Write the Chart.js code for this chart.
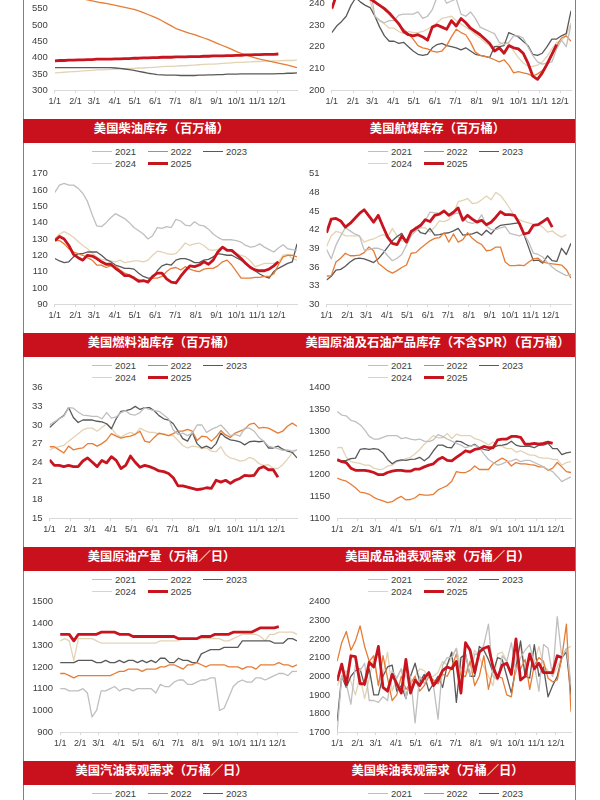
<!DOCTYPE html>
<html lang="zh-CN">
<head>
<meta charset="UTF-8">
<title>美国石油周度数据</title>
<script src="https://cdn.jsdelivr.net/npm/chart.js@4.4.1/dist/chart.umd.min.js"></script>
<style>
  html, body { margin: 0; padding: 0; background: #fff; }
  body {
    width: 600px; height: 800px; overflow: hidden; position: relative;
    font-family: "Liberation Sans", Arial, sans-serif;
  }
  #board { position: absolute; left: 0; top: -95px; width: 600px; height: 1100px; }
  .edge { position: absolute; top: 0; width: 1px; height: 1100px; background: #d65a62; }
  .bar { position: absolute; left: 23px; width: 552px; height: 24px; background: #c9111d; }
  .bar span {
    position: absolute; top: 0; line-height: 24px; text-align: center; color: #fff;
    font: bold 12.3px "Noto Sans CJK SC", sans-serif;
  }
  .legend {
    position: absolute; display: grid; grid-template-columns: 55.5px 55.5px 55.5px;
    grid-auto-rows: 12px; font-size: 9.5px; color: #404040;
  }
  .legend div { display: flex; align-items: center; white-space: nowrap; }
  .legend i { display: inline-block; width: 20px; margin-right: 3px; }
  .plot { position: absolute; height: 164px; }
</style>
</head>
<body>
<div id="board">
  <div class="edge" style="left:23px"></div>
  <div class="edge" style="left:575px"></div>
</div>

<script>
  const YEARS = ["2021", "2022", "2023", "2024", "2025"];
  const COLORS = ["#bfbfbf", "#e67c36", "#595959", "#e3d3b5", "#c8141e"];
  const WIDTHS = [1.3, 1.3, 1.3, 1.3, 2.8];
  const MONTH_DAYS = [0, 31, 59, 90, 120, 151, 181, 212, 243, 273, 304, 334];
  const MONTH_LABELS = ["1/1", "2/1", "3/1", "4/1", "5/1", "6/1", "7/1", "8/1", "9/1", "10/1", "11/1", "12/1"];

  // weekly values, one point every 7 days from 1/1

  // 美国战略原油储备 (top-left, only lower part on screen)
  const spr2021 = [638,638,638,638,637,637,637,637,637,637,638,638,638,637,634,631,628,625,622,620,618,617,616,615,614,622,621,620,619,618,616,622,621,620,618,618,617,616,614,612,611,609,608,607,606,604,603,601,600,598,596,595,594];
  const spr2022 = [593,591,589,587,585,583,580,577,574,571,568,566,563,560,557,554,551,548,543,538,532,526,520,513,505,497,489,484,479,474,470,465,460,455,449,443,437,431,425,418,413,408,404,399,395,392,389,386,383,380,377,373,369];
  const spr2023 = [369,369,369,369,369,369,369,369,369,369,369,369,369,368,367,365,363,361,358,355,352,350,348,347,346,346,346,345,345,345,345,346,346,347,347,348,348,349,349,349,350,350,350,350,350,350,350,350,351,351,352,352,353];
  const spr2024 = [353,354,355,356,357,358,359,360,361,362,362,363,364,365,365,366,367,367,368,368,369,370,371,372,373,373,374,375,375,376,377,378,379,380,380,381,382,383,384,385,385,386,387,388,388,389,389,390,390,391,391,391,392];
  const spr2025 = [390,391,391,392,392,393,393,394,394,395,395,395,395,396,396,397,397,398,398,399,399,400,400,401,401,401,402,402,402,403,403,403,404,404,405,405,405,406,406,407,407,408,408,409,409,410,410,410,411];

  // 美国汽油库存 (top-right, only lower part on screen)
  const gas2021 = [245,247,249,252,254,256,257,257,247,234,232,231,232,232,234.5,235,235,235,236,233,234,237,243,244,240,241,242,235,234,236,233,229,228,227,226,222,221,222,225,225,224,220,216,213,212,212.5,213,219,223,220,230];
  const gas2022 = [245,247,248,249,250,249,248,247,244,241,239,237,235,233,230,228,226,223.5,220.5,219.5,219,218,217.5,218,220.5,224.5,228,226.5,225.5,222,217.5,216,215.5,215,214,213,214,211.5,208,208.5,208,207.5,206.5,207.5,209,212,216,220.5,224,225,222.5];
  const gas2023 = [226.5,229.5,231.5,234,239,242.5,240.5,239,238,234,229,225,222.5,222.5,221.5,222,220,218,216.5,216,216.5,219.5,221,221.5,220.5,220,219.5,218.5,219.5,218,216.5,216,215.5,215,220,220,220.5,226.5,225.5,224.5,222.5,220.5,216.5,216,217,220,223.5,223.5,225,226,236.5];
  const gas2024 = [237,245,248,251,251,250,248,246,241,234,232,230.5,228.5,228.5,227,226,227,226.5,226.5,227,228,229.5,231,233,233.5,234,232,230.5,229,227.5,225.5,224,222,220.5,220,221,222,221.5,218,215,212.5,211,211,211.5,213,215.5,219,222,223,225,231];
  const gas2025 = [237.5,244,246,248,248,248,247,246,242,240.5,239,237.5,235.5,233,230.5,227,225.5,225,225.5,224.5,223,229,230,229,228,232,229.5,233,231,228.5,227,225.5,223.5,221.5,218,219.5,217,220.5,219.5,219,217,212.5,206.5,205,208,212,216.5,221];

  // 美国柴油库存
  const dis2021 = [158.5,163,164,163,163,161,158,153,145,138,137.5,140,143,145.5,144,142.5,140,137,135,133,130,132,137,136.5,137.5,137,142,141,138.5,138,140.5,138.5,138,136,133,131,129.5,129.5,129.5,129,128,126,125,125.5,127,125,123.5,122,124.5,126.5,124,123.5,123];
  const dis2022 = [129,129,127,124,122,121,120,118.5,117,114,114,112.5,113.5,113.5,111,109,108,106,105,104,104.5,106,106,107,110,112,112.5,111,113,111.5,110.5,110,111.5,112,112,113.5,116,117,114,110,106,106,106,106.5,106.5,107,107,108.5,114,119,120,120,119];
  const dis2023 = [118,116.5,115.5,116,119,121,121,122,122,122,120,117.5,116,114,113,112,112,111.5,109,107,106,106,110.5,113.5,114.5,114,117,118,118,117,115.5,115.5,117,117.5,119,121,120.5,120,120,118.5,117,115,113,110.5,108.5,107,106,110,112,113.5,115,116,127];
  const dis2024 = [130,133,134.5,133,131,128.5,126,124,121.5,119,117.5,117,116.5,116,117,115.5,116,116.5,116.5,116,117,120,122.5,122,121,120.5,121,124,127.5,126,127,127.5,126,123.5,123,123.5,125.5,124,122,121,120,119,116.5,113,114,115,115,115,116,120,120.5,118,117];
  const dis2025 = [129,131.5,130,126,120.5,118.5,117,120,119.5,118,116,114.5,114.5,112,110,107.5,107.5,106,104,104.5,103.5,107,109,109,105.5,103.5,103,107,110.5,113.5,113,114,116,114.5,117,122,125,123,123,120.5,118,115,112.5,111,110.5,110.5,111.5,113.5,116];

  // 美国航煤库存
  const jet2021 = [38.8,37.3,39.5,41.0,42.3,41.8,41.3,41.0,38.7,38.8,39.0,39.0,38.7,37.8,37.0,37.4,38.0,39.5,41.0,41.8,42.3,43.5,44.8,44.7,44.6,45.0,44.2,44.5,44.7,44.0,43.2,43.0,43.2,44.4,42.6,42.0,42.0,42.3,42.5,41.4,41.2,41.0,41.3,40.0,38.2,38.0,37.6,36.7,36.0,35.4,35.0,34.6,34.8];
  const jet2022 = [34.5,34.6,36.8,37.4,38.2,37.8,37.8,37.9,38.3,39.2,38.6,36.6,36.0,35.4,35.0,35.4,35.9,36.3,38.2,38.3,39.0,39.6,40.2,40.6,40.7,41.5,40.0,41.3,40.0,40.4,41.5,40.6,40.0,39.6,38.6,38.7,39.2,39.2,36.8,36.2,36.2,36.3,36.2,36.8,37.3,37.4,36.8,36.6,36.5,36.4,36.3,35.6,34.2];
  const jet2023 = [33.9,34.5,35.5,35.6,36.1,36.8,37.3,37.4,37.3,37.0,36.7,37.3,38.2,39.2,40.2,40.9,41.4,40.0,41.5,42.4,41.5,41.3,42.2,41.1,41.2,41.4,41.5,41.8,42.2,41.1,41.2,41.3,41.6,41.1,41.9,41.3,42.2,42.7,42.8,42.9,43.0,43.1,41.2,39.1,37.0,37.1,36.6,37.8,37.0,36.9,39.0,38.0,39.8];
  const jet2024 = [39.3,41.0,41.7,41.5,41.0,41.0,41.0,41.0,40.0,40.3,40.5,40.9,41.2,40.8,42.2,41.0,40.2,40.0,41.4,41.9,42.3,42.3,41.6,42.4,43.4,43.3,43.6,44.6,46.5,46.7,47.0,46.2,46.3,46.8,47.4,46.8,48.0,47.5,46.5,45.4,44.1,43.6,43.3,43.1,42.9,42.8,42.4,41.6,41.8,41.2,40.8,41.2];
  const jet2025 = [41.5,43.7,43.8,43.4,42.4,43.0,43.8,44.6,45.2,44.2,43.2,44.3,42.5,40.8,39.8,39.6,41.0,40.0,41.7,42.2,42.7,43.6,43.3,44.3,44.5,45.0,44.3,44.8,45.5,43.5,44.3,43.7,43.2,43.5,42.8,43.2,44.0,44.9,44.4,44.4,44.3,43.0,41.3,41.5,42.7,42.8,43.3,43.8,42.4];

  // 美国燃料油库存
  const fo2021 = [30.0,30.5,31.0,31.4,32.8,32.7,32.1,31.6,31.5,31.4,31.4,31.0,32.0,31.1,31.3,32.0,32.3,31.7,31.6,32.0,32.8,32.5,32.3,32.2,31.6,31.0,29.2,28.5,28.7,28.3,28.7,30.0,30.0,28.8,29.3,29.6,30.0,29.2,28.3,28.5,28.2,29.5,29.5,29.0,28.0,27.4,26.6,26.4,26.2,25.9,26.0,25.8,26.0];
  const fo2022 = [26.5,26.5,26.0,25.5,26.6,26.0,26.2,26.3,27.0,27.0,26.6,27.0,27.6,28.6,28.2,27.9,28.1,28.2,28.5,29.0,27.4,27.2,28.0,28.7,28.5,28.3,28.6,29.0,29.0,29.3,29.0,27.5,28.2,28.1,27.4,28.1,29.1,28.4,28.0,28.7,29.0,29.3,30.1,30.3,29.5,29.6,29.5,29.1,28.7,29.0,29.8,30.3,29.8];
  const fo2023 = [29.6,30.3,31.0,31.5,32.8,31.2,30.4,30.8,30.8,30.8,30.6,30.5,30.2,29.4,31.0,32.2,32.3,32.5,33.0,32.5,32.8,32.8,32.3,31.5,31.0,30.8,30.2,29.0,27.8,27.4,28.8,27.0,26.3,26.6,26.2,27.0,28.7,28.0,27.6,27.5,27.3,26.8,27.3,27.4,27.3,27.4,26.3,26.3,26.6,26.1,25.8,25.6,24.7];
  const fo2024 = [26.0,26.3,26.5,26.7,27.4,28.0,28.6,29.2,29.5,29.5,29.0,29.6,30.2,29.5,28.5,28.0,28.5,28.8,28.5,29.5,29.1,28.8,28.8,28.5,28.6,28.3,28.3,27.5,26.7,26.3,26.6,26.5,26.2,26.3,25.8,25.7,26.5,25.2,24.7,24.5,24.2,24.3,24.8,24.5,23.8,23.5,23.6,23.0,23.0,23.6,24.5,25.5,26.0];
  const fo2025 = [24.4,23.5,23.5,23.3,23.5,23.3,23.3,24.2,24.7,24.0,23.3,24.3,23.9,24.9,24.3,23.0,23.5,25.0,24.0,23.2,23.5,23.3,23.0,22.6,22.5,22.2,21.5,20.2,20.2,20.0,19.8,19.6,19.7,19.9,19.8,21.1,20.8,21.1,20.6,21.1,21.4,21.9,21.8,21.9,23.0,23.3,22.8,22.8,21.6];

  // 美国原油及石油产品库存（不含SPR）
  const tot2021 = [1345,1337,1335,1325,1322,1315,1303,1288,1282,1282,1286,1290,1290,1290,1283,1285,1282,1280,1282,1277,1276,1280,1292,1288,1282,1277,1272,1268,1262,1265,1268,1262,1248,1235,1228,1222,1225,1230,1232,1236,1230,1233,1233,1228,1223,1218,1212,1207,1196,1184,1190,1195];
  const tot2022 = [1192,1188,1185,1178,1170,1160,1158,1155,1148,1143,1140,1136,1138,1145,1150,1142,1143,1147,1155,1153,1153,1155,1165,1170,1175,1185,1207,1205,1205,1210,1220,1212,1212,1212,1225,1232,1238,1232,1220,1228,1225,1225,1223,1222,1218,1218,1210,1215,1228,1218,1207,1205];
  const tot2023 = [1232,1232,1233,1237,1238,1258,1260,1258,1260,1258,1250,1235,1225,1232,1234,1233,1235,1236,1240,1232,1240,1255,1268,1268,1263,1262,1277,1276,1270,1265,1270,1262,1258,1256,1262,1267,1268,1270,1277,1268,1265,1265,1265,1262,1268,1268,1272,1260,1260,1246,1250,1252];
  const tot2024 = [1262,1263,1240,1230,1228,1226,1222,1222,1215,1212,1213,1220,1222,1230,1232,1237,1240,1248,1258,1270,1280,1290,1285,1285,1295,1283,1293,1290,1290,1290,1283,1280,1275,1268,1275,1268,1265,1260,1260,1252,1255,1250,1245,1245,1240,1238,1238,1235,1235,1222,1228,1230];
  const tot2025 = [1235,1230,1228,1215,1210,1210,1210,1208,1205,1200,1200,1205,1208,1210,1210,1208,1208,1213,1213,1218,1222,1225,1235,1240,1233,1232,1240,1247,1255,1252,1258,1260,1265,1262,1262,1280,1282,1282,1288,1288,1286,1270,1270,1272,1270,1272,1275,1272];

  // 美国原油产量
  const crd2021 = [1100,1100,1090,1090,1090,1100,1080,970,1000,1090,1090,1100,1110,1090,1100,1100,1090,1100,1100,1100,1100,1080,1120,1110,1110,1130,1140,1140,1120,1120,1130,1140,1140,1150,1150,1000,1010,1060,1110,1130,1140,1130,1130,1150,1150,1140,1150,1160,1170,1170,1160,1180,1180];
  const crd2022 = [1170,1170,1160,1150,1160,1160,1160,1160,1160,1160,1160,1160,1170,1180,1180,1190,1190,1190,1180,1190,1190,1190,1200,1200,1210,1210,1200,1190,1210,1210,1220,1210,1200,1210,1210,1210,1210,1200,1200,1200,1190,1200,1200,1190,1210,1210,1210,1210,1220,1210,1210,1200,1210];
  const crd2023 = [1220,1220,1220,1220,1230,1230,1230,1230,1220,1220,1230,1220,1220,1230,1220,1230,1230,1220,1230,1220,1230,1220,1240,1240,1220,1220,1240,1230,1230,1220,1220,1260,1270,1280,1280,1280,1290,1290,1290,1290,1320,1320,1320,1320,1320,1320,1320,1310,1310,1310,1330,1330,1320];
  const crd2024 = [1320,1330,1320,1230,1330,1330,1330,1330,1320,1310,1310,1310,1310,1310,1310,1310,1310,1310,1310,1310,1310,1310,1320,1320,1320,1320,1320,1330,1330,1330,1330,1330,1330,1330,1330,1330,1320,1320,1330,1340,1350,1350,1350,1350,1340,1320,1350,1350,1360,1360,1360,1360,1350];
  const crd2025 = [1350,1350,1350,1320,1350,1350,1350,1350,1350,1360,1360,1360,1360,1350,1350,1350,1340,1340,1340,1340,1340,1340,1340,1340,1340,1340,1330,1330,1330,1330,1330,1340,1340,1340,1350,1350,1350,1350,1360,1360,1360,1360,1360,1370,1380,1380,1380,1380,1385];

  // 美国成品油表观需求
  const dem2021 = [1700,2000,1960,1850,2060,2030,2070,1870,1870,1860,1890,1870,2030,1990,2040,1880,2000,1750,2000,1960,2010,1950,1770,2060,2100,2100,2150,1950,2120,2000,2120,2110,2170,2280,2000,1980,2110,2080,2180,2020,2100,2140,2170,2060,1920,2170,2150,2000,2320,2100,2150,1960];
  const dem2022 = [2080,2180,2240,2140,2190,2270,2160,2080,2110,1950,2110,1990,1870,1900,2000,1930,1960,2000,1920,1950,2000,1980,1960,2010,2000,2050,2120,2000,2000,2080,1950,2000,2110,1930,2040,2000,1990,1900,1890,2060,2040,2090,1930,2060,2100,2080,1990,1970,1980,2100,2280,1810];
  const dem2023 = [1760,2000,1940,2000,2030,2040,1950,2040,1900,1900,2000,2050,2060,1920,1950,1880,2000,2070,1970,2010,1920,1960,2000,1940,2060,2130,1860,2100,2120,2000,2000,2160,2140,2090,2020,2100,2090,2000,1910,2050,2190,2000,1990,2170,2000,2050,1890,1950,2000,2100,2130,1900];
  const dem2024 = [1950,2000,2030,1970,1900,2000,1880,1990,2100,1950,2010,2130,1920,1990,2040,2000,1960,2000,2040,2030,1990,2000,2020,2080,2060,2100,2150,2050,2020,2080,2140,2100,2050,2000,1950,2120,2130,2080,2020,2100,2160,2010,2100,2080,2160,2060,2030,2000,2050,2100,2150,2160];
  const dem2025 = [1975,2065,1955,2110,2105,1960,1960,2075,2050,2160,1940,1920,2010,1960,1910,2090,1910,1980,1950,1990,2020,1950,1980,2030,2050,2040,2080,1910,2180,2140,2020,2130,2150,2160,2050,1990,2060,2070,2010,2200,1980,2000,2120,2040,2070,2020,2020,2020,2110,2100];

  const ROW_H = 214;
  const CELLS = [{ left: 23, width: 277, legendX: 69 }, { left: 300, width: 275, legendX: 68 }];

  const TITLES = {
    1: ["美国柴油库存（百万桶）", "美国航煤库存（百万桶）"],
    2: ["美国燃料油库存（百万桶）", "美国原油及石油产品库存（不含SPR）（百万桶）"],
    3: ["美国原油产量（万桶／日）", "美国成品油表观需求（万桶／日）"],
    4: ["美国汽油表观需求（万桶／日）", "美国柴油表观需求（万桶／日）"],
  };

  const PANELS = [
    { row: 0, col: 0, min: 300, max: 700, step: 50, xMax: 364, series: [spr2021, spr2022, spr2023, spr2024, spr2025] },
    { row: 0, col: 1, min: 200, max: 260, step: 10, xMax: 350, series: [gas2021, gas2022, gas2023, gas2024, gas2025] },
    { row: 1, col: 0, min: 90, max: 170, step: 10, xMax: 364, series: [dis2021, dis2022, dis2023, dis2024, dis2025] },
    { row: 1, col: 1, min: 30, max: 51, step: 3, xMax: 364, series: [jet2021, jet2022, jet2023, jet2024, jet2025] },
    { row: 2, col: 0, min: 15, max: 36, step: 3, xMax: 364, series: [fo2021, fo2022, fo2023, fo2024, fo2025] },
    { row: 2, col: 1, min: 1100, max: 1400, step: 50, xMax: 357, series: [tot2021, tot2022, tot2023, tot2024, tot2025] },
    { row: 3, col: 0, min: 900, max: 1500, step: 100, xMax: 364, series: [crd2021, crd2022, crd2023, crd2024, crd2025] },
    { row: 3, col: 1, min: 1700, max: 2400, step: 100, xMax: 357, series: [dem2021, dem2022, dem2023, dem2024, dem2025] },
  ];

  Chart.defaults.font.family = '"Liberation Sans", Arial, sans-serif';
  const board = document.getElementById("board");
  const barTop = (row) => row * ROW_H;

  // red title bars
  Object.keys(TITLES).forEach((row) => {
    const bar = document.createElement("div");
    bar.className = "bar";
    bar.style.top = barTop(+row) + "px";
    TITLES[row].forEach((text, c) => {
      const s = document.createElement("span");
      s.textContent = text;
      s.style.left = (CELLS[c].left - 23) + "px";
      s.style.width = CELLS[c].width + "px";
      bar.appendChild(s);
    });
    board.appendChild(bar);
  });

  // legends
  Object.keys(TITLES).forEach((row) => {
    CELLS.forEach((cell) => {
      const lg = document.createElement("div");
      lg.className = "legend";
      lg.style.top = (barTop(+row) + 26.5) + "px";
      lg.style.left = (cell.left + cell.legendX) + "px";
      YEARS.forEach((y, i) => {
        const item = document.createElement("div");
        const line = document.createElement("i");
        line.style.height = (i === 4 ? 3 : 1.5) + "px";
        line.style.background = COLORS[i];
        item.appendChild(line);
        item.appendChild(document.createTextNode(y));
        lg.appendChild(item);
      });
      board.appendChild(lg);
    });
  });

  // charts
  PANELS.forEach((p) => {
    const cell = CELLS[p.col];
    const box = document.createElement("div");
    box.className = "plot";
    box.style.left = cell.left + "px";
    box.style.width = cell.width + "px";
    box.style.top = (barTop(p.row) + 42) + "px";
    const canvas = document.createElement("canvas");
    box.appendChild(canvas);
    board.appendChild(box);

    const datasets = p.series.map((vals, i) => ({
      label: YEARS[i],
      data: vals.map((v, k) => ({ x: k * 7, y: v })),
      borderColor: COLORS[i],
      borderWidth: WIDTHS[i],
      pointRadius: 0,
      fill: false,
      tension: 0,
      borderJoinStyle: "round",
      order: i === 4 ? 0 : 1,
    }));

    new Chart(canvas, {
      type: "line",
      data: { datasets: datasets },
      options: {
        responsive: true,
        maintainAspectRatio: false,
        animation: false,
        layout: { padding: { left: 2, right: p.col === 0 ? 3 : 4, top: 0, bottom: 1 } },
        plugins: { legend: { display: false }, tooltip: { enabled: false } },
        scales: {
          x: {
            type: "linear",
            min: 0,
            max: p.xMax,
            afterBuildTicks: (axis) => {
              axis.ticks = MONTH_DAYS.map((v) => ({ value: v }));
            },
            ticks: {
              autoSkip: false,
              maxRotation: 0,
              padding: 3,
              color: "#404040",
              font: { size: 9 },
              callback: (v, i) => MONTH_LABELS[i],
            },
            grid: { display: true, drawOnChartArea: false, tickLength: 3, color: "#d9d9d9" },
            border: { display: true, color: "#d9d9d9" },
          },
          y: {
            min: p.min,
            max: p.max,
            ticks: {
              stepSize: p.step,
              padding: 7,
              color: "#404040",
              font: { size: 9.5 },
              callback: (v) => String(v),
            },
            grid: { display: false, drawTicks: false },
            border: { display: false },
          },
        },
      },
    });
  });
</script>
</body>
</html>
